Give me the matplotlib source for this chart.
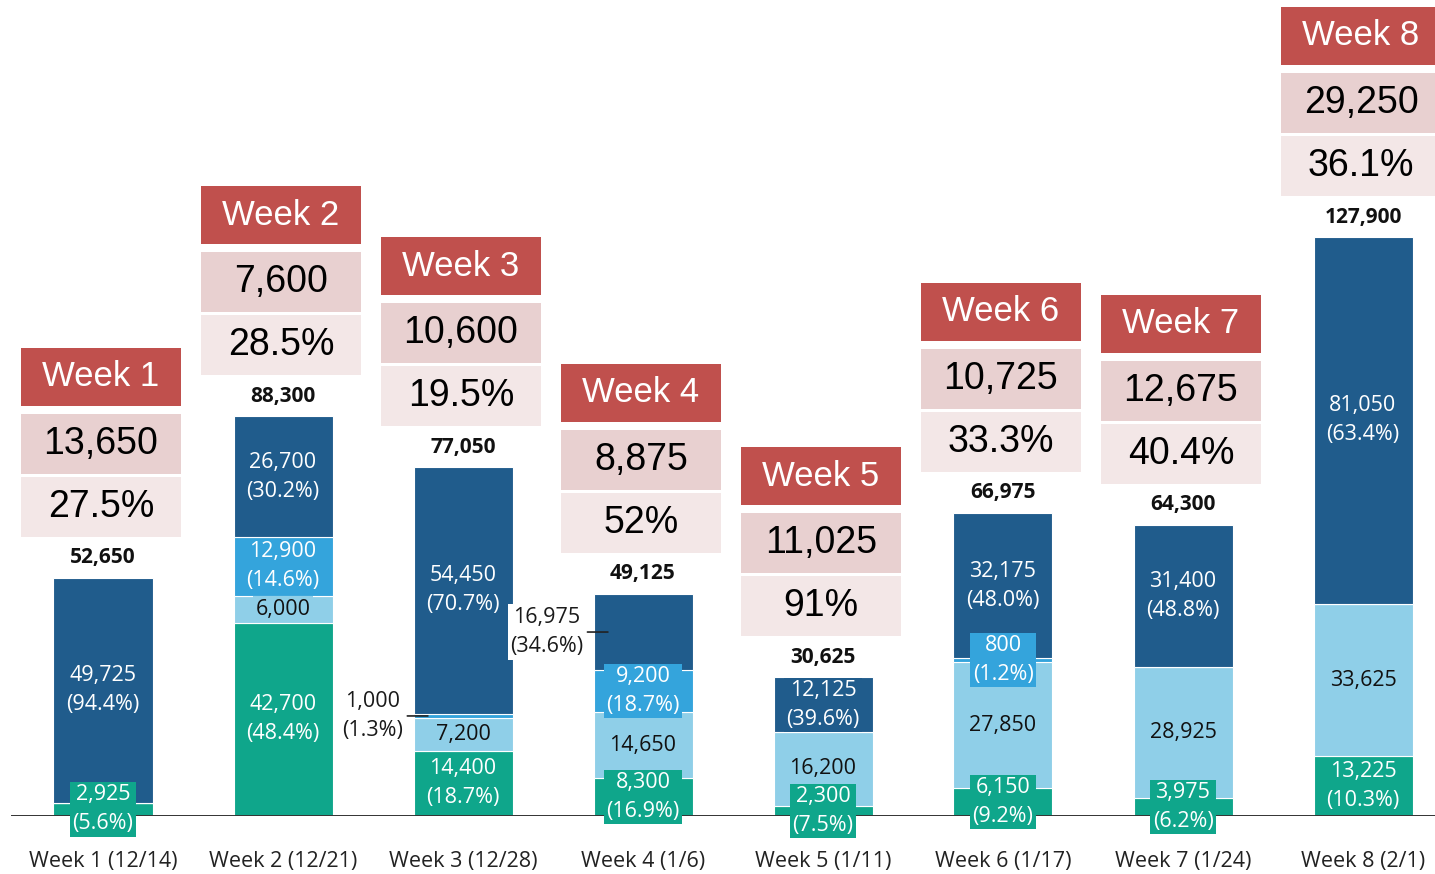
import matplotlib
matplotlib.use("Agg")
from matplotlib import pyplot as plt
from matplotlib.patches import Rectangle

weeks = ["Week 1", "Week 2", "Week 3", "Week 4", "Week 5", "Week 6", "Week 7", "Week 8"]
tick_labels = ["Week 1 (12/14)", "Week 2 (12/21)", "Week 3 (12/28)", "Week 4 (1/6)",
               "Week 5 (1/11)", "Week 6 (1/17)", "Week 7 (1/24)", "Week 8 (2/1)"]
teal = [2925, 42700, 14400, 8300, 2300, 6150, 3975, 13225]
light = [0, 6000, 7200, 14650, 16200, 27850, 28925, 33625]
medium = [0, 12900, 1000, 9200, 0, 800, 0, 0]
dark = [49725, 26700, 54450, 16975, 12125, 32175, 31400, 81050]
box_values = [13650, 7600, 10600, 8875, 11025, 10725, 12675, 29250]
box_pcts = ["27.5%", "28.5%", "19.5%", "52%", "91%", "33.3%", "40.4%", "36.1%"]

c_teal, c_light, c_med, c_dark = "#0FA68B", "#8FCFE8", "#34A4DC", "#205C8C"
c_head, c_val, c_pct = "#C0504D", "#E8D0D0", "#F3E7E7"

W, H = 1435, 874
fig = plt.figure(figsize=(W/100, H/100), dpi=100)
ax = fig.add_axes([0, 58/H, 1, 816/H])
ymax = 127900 * 816 / 579
px = ymax / 816          # data units per pixel
ax.set_ylim(0, ymax)
ax.set_xlim(-103/180, (W-103)/180)
for s in ax.spines.values():
    s.set_visible(False)
ax.set_yticks([])

x = list(range(len(weeks)))
bw = 0.55
segs = [("teal", teal, c_teal, "white", True),
        ("light", light, c_light, "#111111", False),
        ("medium", medium, c_med, "white", True),
        ("dark", dark, c_dark, "white", True)]
totals = [sum(v) for v in zip(teal, light, medium, dark)]

# labels moved outside the bar: text offset in pixels from the leader-line end
outside = {(2, "medium"): -55, (3, "dark"): -61}
lab_fs = 15.5
lab_ls = 1.5

bottom = [0]*len(x)
for name, vals, col, tcol, show_pct in segs:
    ax.bar(x, vals, bw, bottom=bottom, color=col, edgecolor="white", linewidth=0.8, zorder=2)
    for i, v in enumerate(vals):
        if v == 0:
            continue
        mid = bottom[i] + v/2
        txt = f"{v:,}"
        if show_pct:
            txt += f"\n({v/totals[i]*100:.1f}%)"
        if (i, name) in outside:
            off = outside[(i, name)]
            ax.annotate(txt, xy=(x[i] - bw/2 + 0.08, mid), xytext=(off, 0),
                        textcoords="offset pixels", ha="center", va="center",
                        fontsize=lab_fs, family="Open Sans", color="#1a1a1a", linespacing=lab_ls,
                        bbox=dict(boxstyle="square,pad=0.12", fc="white", ec="none"),
                        arrowprops=dict(arrowstyle="-", color="#222222", lw=1.2, shrinkA=1, shrinkB=0),
                        zorder=5)
        else:
            ax.text(x[i], mid, txt, ha="center", va="center", fontsize=lab_fs, family="Open Sans",
                    color=tcol, linespacing=lab_ls, zorder=5,
                    bbox=dict(boxstyle="square,pad=0.1", fc=col, ec="none"))
    bottom = [b + v for b, v in zip(bottom, vals)]

ax.axhline(0, xmin=12/W, xmax=1, color="#333333", lw=1.4, zorder=4)

# total labels and summary boxes above each bar
bxw = 160/180
for i, t in enumerate(totals):
    ax.text(x[i], t + 20*px, f"{t:,}", ha="center", va="center", fontsize=15,
            family="Open Sans", fontweight="bold", color="#111111")
    xc = x[i] - 2/180
    boxes = [(41, 60, c_pct, box_pcts[i], "black", 27),
             (104, 60, c_val, f"{box_values[i]:,}", "black", 27),
             (172, 58, c_head, weeks[i], "white", 25)]
    for off, h, fc, label, tc, fs in boxes:
        y0 = t + off*px
        ax.add_patch(Rectangle((xc - bxw/2, y0), bxw, h*px, fc=fc, ec="none", clip_on=False, zorder=3))
        ax.text(xc, y0 + h*px/2, label, ha="center", va="center", fontsize=fs,
                family="Liberation Sans", color=tc, zorder=4)

ax.set_xticks(x)
ax.set_xticklabels(tick_labels, fontsize=15.5, family="Open Sans", color="#222222")
ax.tick_params(axis="x", length=0, pad=25)

fig.savefig("out.png", dpi=100)
